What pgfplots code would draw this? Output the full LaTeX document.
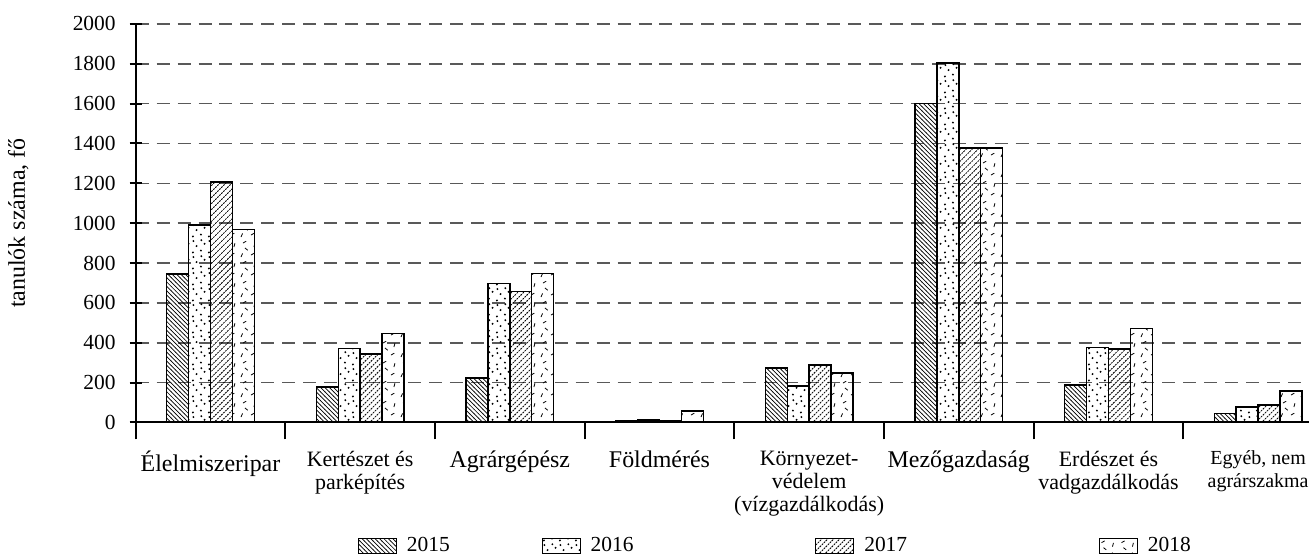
\documentclass[border=0pt]{standalone}
\usepackage{fontspec}
\setmainfont{Liberation Serif}
\usepackage{pgfplots}
\pgfplotsset{compat=1.18}
\usetikzlibrary{patterns}

% hatching and sprinkle fills
\pgfdeclarepatternformonly{hatchNW}{\pgfqpoint{-1pt}{-1pt}}{\pgfqpoint{3.2pt}{3.2pt}}{\pgfqpoint{2.2pt}{2.2pt}}{%
  \pgfsetlinewidth{0.35pt}
  \pgfpathmoveto{\pgfqpoint{-0.1pt}{2.3pt}}\pgfpathlineto{\pgfqpoint{2.3pt}{-0.1pt}}\pgfusepath{stroke}}
\pgfdeclarepatternformonly{hatchNE}{\pgfqpoint{-1pt}{-1pt}}{\pgfqpoint{4pt}{4pt}}{\pgfqpoint{3pt}{3pt}}{%
  \pgfsetlinewidth{0.4pt}\pgfsetdash{{0.9pt}{0.5pt}}{0pt}
  \pgfpathmoveto{\pgfqpoint{-0.1pt}{-0.1pt}}\pgfpathlineto{\pgfqpoint{3.1pt}{3.1pt}}\pgfusepath{stroke}}
\pgfdeclarepatternformonly{sdots}{\pgfqpoint{0pt}{0pt}}{\pgfqpoint{8pt}{8pt}}{\pgfqpoint{8pt}{8pt}}{%
  \pgfpathcircle{\pgfqpoint{1pt}{1.3pt}}{0.55pt}
  \pgfpathcircle{\pgfqpoint{5pt}{2.2pt}}{0.55pt}
  \pgfpathcircle{\pgfqpoint{2.8pt}{4.5pt}}{0.55pt}
  \pgfpathcircle{\pgfqpoint{6.8pt}{5.6pt}}{0.55pt}
  \pgfpathcircle{\pgfqpoint{1.2pt}{7pt}}{0.55pt}
  \pgfpathcircle{\pgfqpoint{5.2pt}{7.4pt}}{0.55pt}
  \pgfusepath{fill}}
\pgfdeclarepatternformonly{sdash}{\pgfqpoint{0pt}{0pt}}{\pgfqpoint{10pt}{10pt}}{\pgfqpoint{10pt}{10pt}}{%
  \pgfsetlinewidth{0.4pt}
  \pgfpathmoveto{\pgfqpoint{1pt}{1pt}}\pgfpathlineto{\pgfqpoint{1.8pt}{2.8pt}}
  \pgfpathmoveto{\pgfqpoint{6pt}{2pt}}\pgfpathlineto{\pgfqpoint{7.7pt}{2.9pt}}
  \pgfpathmoveto{\pgfqpoint{3pt}{5.5pt}}\pgfpathlineto{\pgfqpoint{4.4pt}{4.4pt}}
  \pgfpathmoveto{\pgfqpoint{7.5pt}{6pt}}\pgfpathlineto{\pgfqpoint{8pt}{7.9pt}}
  \pgfpathmoveto{\pgfqpoint{2pt}{8pt}}\pgfpathlineto{\pgfqpoint{3.6pt}{8.9pt}}
  \pgfusepath{stroke}}

\newcommand{\catbig}[1]{{\fontsize{12}{12}\selectfont #1}}

\begin{document}
\begin{tikzpicture}
\begin{axis}[
  width=588pt, height=199.75pt, scale only axis,
  font=\fontsize{10.75}{12}\selectfont,
  /pgf/number format/assume math mode=true,
  ybar=0pt, bar width=11pt,
  xmin=-0.5, xmax=7.34, ymin=0, ymax=2000,
  axis x line=bottom, axis y line=left,
  axis line style={-, line width=1pt},
  ytick={0,200,...,2000},
  yticklabel style={/pgf/number format/1000 sep={}, xshift=-3.5pt},
  tick align=center, major tick length=6pt,
  tick style={black, line width=1pt},
  ymajorgrids, major grid style={black!65, dash pattern=on 6.5pt off 4pt, line width=0.8pt},
  xtick={0,...,7},
  major x tick style={draw=none},
  minor xtick={-0.5,0.5,...,6.5},
  minor x tick style={black, line width=1pt, yshift=-4.25pt},
  minor tick length=8.5pt,
  xticklabel style={align=center, anchor=north, yshift=-7.8pt,
    font=\fontsize{11}{11.5}\selectfont},
  xticklabels={{\catbig{Élelmiszeripar}},{Kertészet és\\parképítés},{\catbig{Agrárgépész}},{\catbig{Földmérés}},{Környezet-\\védelem\\(vízgazdálkodás)},{\catbig{Mezőgazdaság}},{Erdészet és\\vadgazdálkodás},{\fontsize{10}{11.5}\selectfont Egyéb, nem\\\fontsize{10}{11.5}\selectfont agrárszakma}},
  ylabel={tanulók száma, fő},
  ylabel style={at={(axis description cs:0,0.5)}, anchor=south, yshift=53.5pt, inner sep=0pt,
    font=\fontsize{12}{12}\selectfont},
  legend columns=4,
  legend style={at={(0.189,-0.31)}, anchor=west, draw=none, inner sep=0pt,
    /tikz/every odd column/.append style={column sep=3pt},
    /tikz/column 2/.style={column sep=44pt},
    /tikz/column 4/.style={column sep=89pt},
    /tikz/column 6/.style={column sep=94pt}},
  legend image code/.code={\draw[#1, line width=0.6pt] (0pt,-3.75pt) rectangle (19pt,3.75pt);},
  every axis plot/.append style={draw=black, line width=0.7pt},
]
\addplot[pattern=hatchNW] coordinates {(0,745)(1,178)(2,223)(3,10)(4,273)(5,1600)(6,187)(7,45)};
\addlegendentry{2015}
\addplot[pattern=sdots] coordinates {(0,990)(1,372)(2,698)(3,12)(4,183)(5,1803)(6,376)(7,78)};
\addlegendentry{2016}
\addplot[pattern=hatchNE] coordinates {(0,1207)(1,343)(2,658)(3,8)(4,288)(5,1378)(6,368)(7,87)};
\addlegendentry{2017}
\addplot[pattern=sdash] coordinates {(0,967)(1,445)(2,746)(3,58)(4,248)(5,1378)(6,470)(7,157)};
\addlegendentry{2018}
\end{axis}
\coordinate (bbsw) at ([xshift=-4pt]current bounding box.south west);
\coordinate (bbn) at ([yshift=5pt]current bounding box.north);
\pgfresetboundingbox
\useasboundingbox (bbsw) rectangle (current axis.east |- bbn);
\end{tikzpicture}
\end{document}
